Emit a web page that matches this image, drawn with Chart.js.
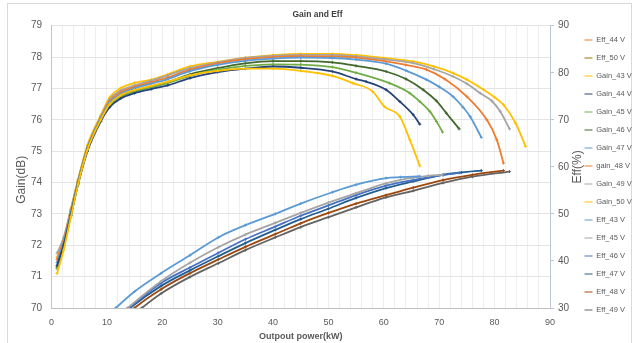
<!DOCTYPE html>
<html>
<head>
<meta charset="utf-8">
<title>Gain and Eff</title>
<script src="https://cdn.jsdelivr.net/npm/chart.js@4.4.1/dist/chart.umd.min.js"></script>
<style>
  html, body { margin: 0; padding: 0; background: #ffffff; }
  #wrap { width: 635px; height: 343px; position: relative; }
</style>
</head>
<body>
<div id="wrap"><canvas id="gainEff"></canvas></div>
<script>
// Data: [output power kW, value]
// Gain (dB), left axis
const gain43 = [[1,71.1],[2.2,71.85],[3.5,72.9],[4.8,73.95],[6.5,75.05],[8.9,76.0],[10.5,76.5],[12.5,76.78],[15,76.95],[18,77.08],[21,77.22],[25,77.42],[30,77.56],[35,77.63],[40,77.63],[45,77.56],[50.7,77.4],[54.4,77.17],[58,76.9],[60.1,76.42],[62.9,76.1],[64.7,75.36],[66.5,74.53]];
const gain44 = [[1,71.35],[2.2,72.0],[3.5,72.95],[4.8,73.95],[6.5,75.0],[8.9,75.95],[10.5,76.4],[12.5,76.68],[15,76.85],[18,76.98],[21,77.1],[25,77.33],[30,77.52],[35,77.63],[40,77.7],[45,77.66],[50.7,77.54],[55,77.3],[56.8,77.22],[60.4,76.96],[62.9,76.58],[65.3,76.16],[66.5,75.86]];
const gain45 = [[1,71.25],[2.2,71.95],[3.5,72.95],[4.8,73.95],[6.5,75.05],[8.9,75.98],[10.5,76.45],[12.5,76.72],[15,76.9],[18,77.03],[21,77.17],[25,77.4],[30,77.6],[35,77.72],[40,77.77],[45,77.76],[50.7,77.68],[55,77.5],[61,77.17],[64.7,76.85],[66.5,76.58],[68.3,76.27],[69.5,75.95],[70.6,75.61]];
const gain46 = [[1,71.3],[2.2,72.0],[3.5,72.98],[4.8,73.98],[6.5,75.07],[8.9,76.0],[10.5,76.47],[12.5,76.74],[15,76.92],[18,77.06],[21,77.2],[25,77.45],[30,77.65],[35,77.8],[40,77.87],[45,77.87],[50.7,77.83],[55,77.72],[60.4,77.54],[64,77.3],[67.1,76.96],[69.5,76.6],[71.3,76.21],[73.6,75.71]];
const gain47 = [[1,71.45],[2.2,72.1],[3.5,73.05],[4.8,74.02],[6.5,75.1],[8.9,76.05],[10.5,76.55],[12.5,76.82],[15,77.0],[18,77.15],[21,77.3],[25,77.55],[30,77.75],[35,77.88],[40,77.95],[45,77.98],[50.7,77.97],[55,77.92],[60.4,77.79],[64,77.57],[67.7,77.28],[70,77.05],[72.5,76.74],[74.3,76.4],[75.6,76.1],[77.6,75.44]];
const gain48 = [[1,71.55],[2.2,72.15],[3.5,73.1],[4.8,74.05],[6.5,75.12],[8.9,76.07],[10.5,76.6],[12.5,76.88],[15,77.05],[18,77.2],[21,77.35],[25,77.6],[30,77.8],[35,77.93],[40,78.0],[45,78.03],[50.7,78.02],[55,77.98],[60.4,77.86],[64,77.75],[67.7,77.6],[71,77.3],[75,76.74],[78.6,76.0],[80.4,75.36],[81.6,74.62]];
const gain49 = [[1,71.75],[2.2,72.25],[3.5,73.15],[4.8,74.08],[6.5,75.15],[8.9,76.1],[10.5,76.65],[12.5,76.93],[15,77.1],[18,77.25],[21,77.42],[25,77.65],[30,77.83],[35,77.97],[40,78.04],[45,78.07],[50.7,78.07],[55,78.02],[60,77.93],[65.3,77.81],[69,77.62],[72.5,77.38],[75,77.15],[77.4,76.85],[79.5,76.6],[81,76.27],[82.7,75.71]];
const gain50 = [[1,71.62],[2.2,72.2],[3.5,73.15],[4.8,74.1],[6.5,75.2],[8.9,76.15],[10.5,76.72],[12.5,77.01],[15,77.18],[18,77.28],[21,77.45],[25,77.7],[30,77.85],[35,77.98],[40,78.06],[45,78.1],[50.7,78.1],[55,78.06],[60,77.97],[65.3,77.86],[69,77.7],[72.5,77.49],[75,77.28],[78,76.96],[80,76.72],[81.6,76.48],[83.8,75.89],[85.6,75.15]];

// Efficiency (%), right axis
const eff43 = [[8,26.0],[11.6,30],[15,33.5],[19.8,37.4],[25,41.2],[30.1,45.0],[35,47.6],[40.4,50.0],[45,52.2],[50.7,54.6],[55,56.2],[60.4,57.6],[63,57.8],[66.5,58.0]];
const eff44 = [];
const eff45 = [[9,25.3],[13.7,30],[19.8,35.7],[25,39.6],[30.1,42.9],[35,45.6],[40.4,48.1],[45,50.2],[50,52.4],[55,54.4],[60.4,56.5],[65.3,57.7],[68,58.1],[70.6,58.3]];
const eff46 = [[10,26.0],[14,30],[19.8,35.3],[25,38.6],[30.1,41.7],[35,44.6],[40.4,47.3],[45,49.6],[50,51.8],[55,54.0],[60.4,56.0],[65.3,57.2],[70.7,58.3],[73.6,58.7]];
const eff47 = [[10,25.4],[14.2,30],[19.8,34.7],[25,38.0],[30.1,41.0],[35,43.8],[40.4,46.6],[45,48.9],[50,51.1],[55,53.4],[60.4,55.5],[65.3,56.9],[70.7,58.3],[74,58.8],[77.6,59.2]];
const eff48 = [[11,25.3],[15,30],[19.8,34.0],[25,37.4],[30.1,40.3],[35,43.0],[40.4,45.7],[45,48.0],[50,50.2],[55,52.2],[60.4,54.0],[65.3,55.6],[70.7,57.2],[76,58.3],[81.6,59.2]];
const eff49 = [[12,25.5],[16.3,30],[19.8,33.1],[25,36.6],[30.1,39.5],[35,42.3],[40.4,45.0],[45,47.2],[50,49.3],[55,51.4],[60.4,53.5],[65.3,54.9],[70.7,56.6],[76,57.9],[82.7,59.0]];
const eff50 = [];

// Axis ranges / ticks
const powerTicks = [0, 90, 10];   // min, max, label step
const gainTicks = [70, 79, 1];
const effTicks = [30, 90, 10];

const fontFamily = "'Liberation Sans', Arial, sans-serif";
const textGrey = '#595959';

// Build one dataset
function series(label, data, color, axis, width) {
    return {
        label: label,
        data: data,
        yAxisID: axis,
        borderColor: color,
        backgroundColor: color,
        borderWidth: width || 1.8,
        pointStyle: 'cross',
        pointRadius: 1.5,
        pointBorderWidth: 1,
        pointHoverRadius: 2,
        cubicInterpolationMode: 'monotone',
        fill: false
    };
}

// Legend order follows the picture
const datasets = [
    series('Eff_44 V', eff44, '#ED7D31', 'y2', 1),
    series('Eff_50 V', eff50, '#997300', 'y2', 1),
    series('Gain_43 V', gain43, '#FFC000', 'y'),
    series('Gain_44 V', gain44, '#264478', 'y'),
    series('Gain_45 V', gain45, '#70AD47', 'y'),
    series('Gain_46 V', gain46, '#43682B', 'y'),
    series('Gain_47 V', gain47, '#5B9BD5', 'y'),
    series('gain_48 V', gain48, '#ED7D31', 'y'),
    series('Gain_49 V', gain49, '#A5A5A5', 'y'),
    series('Gain_50 V', gain50, '#FFC000', 'y'),
    series('Eff_43 V', eff43, '#5B9BD5', 'y2'),
    series('Eff_45 V', eff45, '#A5A5A5', 'y2'),
    series('Eff_46 V', eff46, '#4472C4', 'y2'),
    series('Eff_47 V', eff47, '#255E91', 'y2'),
    series('Eff_48 V', eff48, '#9E480E', 'y2'),
    series('Eff_49 V', eff49, '#636363', 'y2')
];

// Frame and rotated axis titles
const decorations = {
    id: 'decorations',
    beforeDraw(chart) {
        const ctx = chart.ctx;
        ctx.save();
        ctx.strokeStyle = '#D9D9D9';
        ctx.lineWidth = 1;
        ctx.strokeRect(7.5, 3.5, 624, 345);
        ctx.restore();
    },
    afterDraw(chart) {
        const ctx = chart.ctx;
        const area = chart.chartArea;
        const mid = (area.top + area.bottom) / 2;
        ctx.save();
        ctx.fillStyle = textGrey;
        ctx.textAlign = 'center';
        ctx.textBaseline = 'middle';
        ctx.font = '12px ' + fontFamily;
        ctx.translate(21.5, mid + 13);
        ctx.rotate(-Math.PI / 2);
        ctx.fillText('Gain(dB)', 0, 0);
        ctx.restore();

        ctx.save();
        ctx.fillStyle = textGrey;
        ctx.textAlign = 'center';
        ctx.textBaseline = 'middle';
        ctx.font = '12px ' + fontFamily;
        ctx.translate(area.right + 28, mid);
        ctx.rotate(-Math.PI / 2);
        ctx.fillText('Eff(%)', 0, 0);
        ctx.restore();
    }
};

const config = {
    type: 'line',
    data: { datasets: datasets },
    plugins: [decorations],
    options: {
        responsive: false,
        animation: false,
        layout: { padding: { top: 7, left: 0, right: 0, bottom: 0 } },
        plugins: {
            title: {
                display: true,
                text: 'Gain and Eff',
                color: '#404040',
                font: { family: fontFamily, size: 8.5, weight: 'bold' },
                padding: { top: 3, bottom: 5.5 }
            },
            legend: {
                position: 'right',
                align: 'center',
                maxWidth: 61,
                labels: {
                    usePointStyle: true,
                    pointStyle: 'line',
                    pointStyleWidth: 8,
                    padding: 10.5,
                    color: textGrey,
                    font: { family: fontFamily, size: 7.5 }
                }
            },
            tooltip: { enabled: false }
        },
        scales: {
            x: {
                type: 'linear',
                min: powerTicks[0],
                max: powerTicks[1],
                afterFit: function (s) { s.height = 35; },
                border: { color: '#BFBFBF' },
                grid: { color: '#EEEEEE', drawTicks: false },
                ticks: {
                    stepSize: 2,
                    autoSkip: false,
                    maxRotation: 0,
                    padding: 9,
                    color: textGrey,
                    font: { family: fontFamily, size: 9 },
                    callback: function (v) { return v % powerTicks[2] === 0 ? v : ''; }
                },
                title: {
                    display: true,
                    text: 'Outpout power(kW)',
                    color: textGrey,
                    font: { family: fontFamily, size: 9, weight: 'bold' },
                    padding: { top: 0, bottom: 1 }
                }
            },
            y: {
                position: 'left',
                min: gainTicks[0],
                max: gainTicks[1],
                afterFit: function (s) { s.width = 51.5; },
                border: { color: '#BFC6D0' },
                grid: { color: '#E4E4E4', drawTicks: false },
                ticks: {
                    stepSize: gainTicks[2],
                    padding: 9.5,
                    color: textGrey,
                    font: { family: fontFamily, size: 10 }
                }
            },
            y2: {
                position: 'right',
                min: effTicks[0],
                max: effTicks[1],
                afterFit: function (s) { s.width = 24; },
                border: { color: '#BFC6D0' },
                grid: { drawOnChartArea: false, color: '#BFC6D0', tickLength: 4 },
                ticks: {
                    stepSize: effTicks[2],
                    padding: 4,
                    color: textGrey,
                    font: { family: fontFamily, size: 10 }
                }
            }
        }
    }
};

const canvas = document.getElementById('gainEff');
canvas.width = 635;
canvas.height = 343;
const gainEffChart = new Chart(canvas, config);
</script>
</body>
</html>
